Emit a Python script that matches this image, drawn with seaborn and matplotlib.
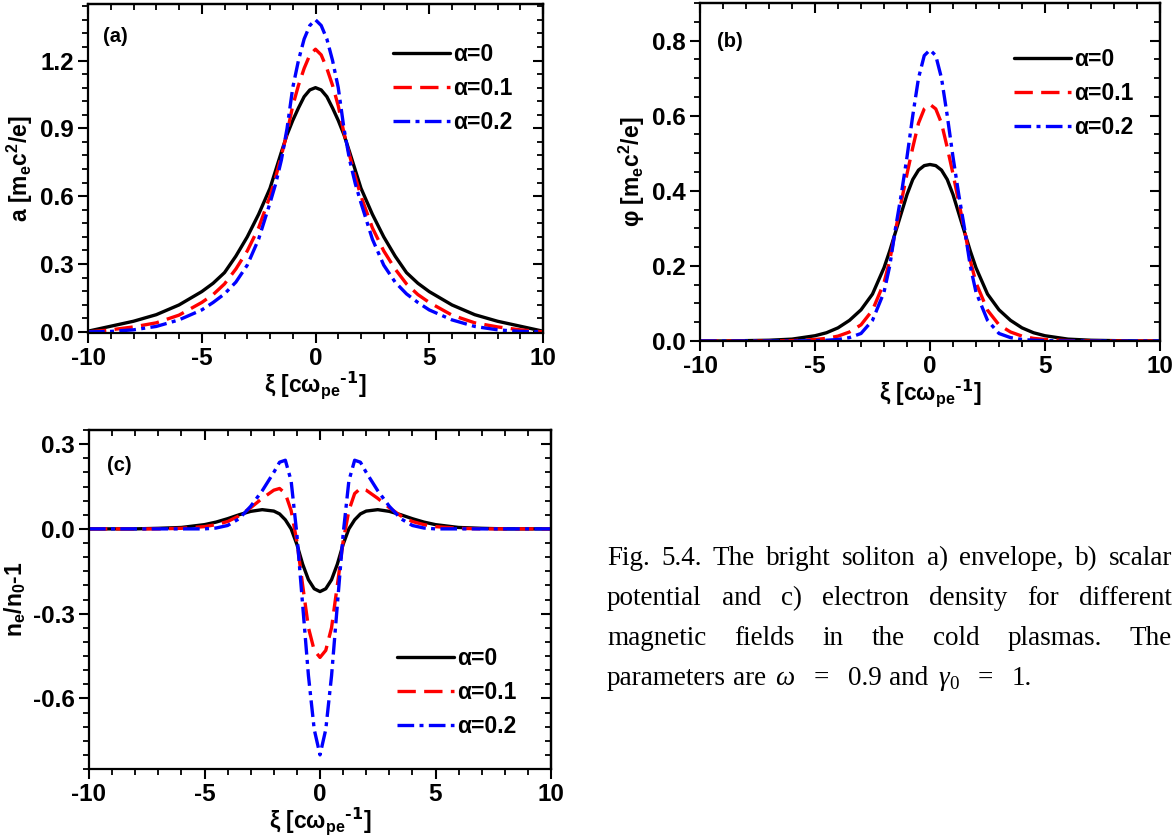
import matplotlib
matplotlib.use("Agg")
import matplotlib.pyplot as plt
from matplotlib.ticker import MultipleLocator, FormatStrFormatter, NullFormatter
import pandas as pd
import seaborn as sns

# ---------------------------------------------------------------- data
xi = [-10, -9, -8, -7, -6, -5, -4.5, -4, -3.5, -3, -2.5, -2, -1.75, -1.5, -1.25,
      -1, -0.75, -0.5, -0.25, 0, 0.25, 0.5, 0.75, 1, 1.25, 1.5, 1.75, 2, 2.5, 3,
      3.5, 4, 4.5, 5, 6, 7, 8, 9, 10]

alpha_labels = ["α=0", "α=0.1", "α=0.2"]

# (a) envelope a [m_e c^2 / e]
a_alpha0 = [0.003, 0.025, 0.047, 0.076, 0.119, 0.178, 0.215, 0.262, 0.335, 0.42,
            0.52, 0.635, 0.715, 0.795, 0.872, 0.935, 0.99, 1.04, 1.07, 1.08,
            1.07, 1.04, 0.99, 0.935, 0.872, 0.795, 0.715, 0.635, 0.52, 0.42,
            0.335, 0.262, 0.215, 0.178, 0.119, 0.076, 0.047, 0.025, 0.003]
a_alpha1 = [0.0, 0.009, 0.022, 0.04, 0.074, 0.13, 0.165, 0.212, 0.278, 0.358,
            0.46, 0.6, 0.685, 0.78, 0.88, 1.0, 1.09, 1.165, 1.225, 1.25,
            1.225, 1.165, 1.09, 1.0, 0.88, 0.78, 0.685, 0.6, 0.46, 0.358,
            0.278, 0.212, 0.165, 0.13, 0.074, 0.04, 0.022, 0.009, 0.0]
a_alpha2 = [0.0, 0.002, 0.009, 0.024, 0.053, 0.097, 0.13, 0.168, 0.22, 0.295,
            0.41, 0.57, 0.655, 0.76, 0.9, 1.08, 1.2, 1.295, 1.355, 1.38,
            1.355, 1.295, 1.2, 1.08, 0.9, 0.76, 0.655, 0.57, 0.41, 0.295,
            0.22, 0.168, 0.13, 0.097, 0.053, 0.024, 0.009, 0.002, 0.0]

# (b) scalar potential phi [m_e c^2 / e]
b_alpha0 = [0, 0, 0.001, 0.002, 0.005, 0.014, 0.022, 0.035, 0.055, 0.083,
            0.125, 0.195, 0.24, 0.29, 0.34, 0.39, 0.43, 0.455, 0.467, 0.47,
            0.467, 0.455, 0.43, 0.39, 0.34, 0.29, 0.24, 0.195, 0.125, 0.083,
            0.055, 0.035, 0.022, 0.014, 0.005, 0.002, 0.001, 0, 0]
b_alpha1 = [0, 0, 0, 0, 0.001, 0.004, 0.007, 0.013, 0.024, 0.043,
            0.082, 0.155, 0.215, 0.295, 0.37, 0.445, 0.515, 0.58, 0.618, 0.63,
            0.618, 0.58, 0.515, 0.445, 0.37, 0.295, 0.215, 0.155, 0.082, 0.043,
            0.024, 0.013, 0.007, 0.004, 0.001, 0, 0, 0, 0]
b_alpha2 = [0, 0, 0, 0, 0, 0.001, 0.002, 0.004, 0.009, 0.02,
            0.055, 0.13, 0.2, 0.3, 0.39, 0.49, 0.6, 0.7, 0.76, 0.775,
            0.76, 0.7, 0.6, 0.49, 0.39, 0.3, 0.2, 0.13, 0.055, 0.02,
            0.009, 0.004, 0.002, 0.001, 0, 0, 0, 0, 0]

# (c) electron density n_e/n_0 - 1
c_alpha0 = [0, 0, 0, 0.002, 0.005, 0.015, 0.024, 0.036, 0.05, 0.062,
            0.068, 0.063, 0.053, 0.032, 0.0, -0.055, -0.125, -0.18, -0.212, -0.222,
            -0.212, -0.18, -0.125, -0.055, 0.0, 0.032, 0.053, 0.063, 0.068, 0.062,
            0.05, 0.036, 0.024, 0.015, 0.005, 0.002, 0, 0, 0]
c_alpha1 = [0, 0, 0, 0, 0.002, 0.008, 0.015, 0.026, 0.046, 0.075,
            0.108, 0.137, 0.143, 0.125, 0.065, -0.045, -0.2, -0.35, -0.43, -0.455,
            -0.43, -0.35, -0.2, -0.045, 0.065, 0.125, 0.143, 0.137, 0.108, 0.075,
            0.046, 0.026, 0.015, 0.008, 0.002, 0, 0, 0, 0]
c_alpha2 = [0, 0, 0, 0, 0, 0, 0.003, 0.012, 0.036, 0.08,
            0.135, 0.2, 0.236, 0.243, 0.17, -0.02, -0.27, -0.52, -0.71, -0.8,
            -0.71, -0.52, -0.27, -0.02, 0.17, 0.243, 0.236, 0.2, 0.135, 0.08,
            0.036, 0.012, 0.003, 0, 0, 0, 0, 0, 0]

caption_lines = [
    "Fig. 5.4. The bright soliton a) envelope, b) scalar",
    "potential and c) electron density for different",
    "magnetic fields in the cold plasmas. The",
]


def long_frame(series):
    parts = []
    for label, values in zip(alpha_labels, series):
        parts.append(pd.DataFrame({"xi": xi, "val": values, "alpha": label}))
    return pd.concat(parts, ignore_index=True)


# ---------------------------------------------------------------- style
sns.set_theme(style="ticks")
plt.rcParams.update({
    "font.family": ["Liberation Sans", "DejaVu Sans"],
    "font.weight": "bold",
    "axes.labelweight": "bold",
    "mathtext.default": "regular",
    "axes.unicode_minus": False,
    "axes.linewidth": 1.6,
    "axes.edgecolor": "black",
    "xtick.color": "black",
    "ytick.color": "black",
    "axes.labelcolor": "black",
    "text.color": "black",
})

W, H = 1175, 836
fig = plt.figure(figsize=(W / 100, H / 100), dpi=100)
fig.patch.set_facecolor("white")

palette = dict(zip(alpha_labels, ["black", "#ff0000", "#0000ff"]))
dashes = dict(zip(alpha_labels, ["", (5.5, 2.5), (5.0, 1.6, 1.2, 1.6)]))

TICK_FS = 17.5
LABEL_FS = 16.5
LEG_FS = 16.5
TAG_FS = 14.5


def px_axes(left, top, right, bottom):
    return fig.add_axes([left / W, 1 - bottom / H, (right - left) / W, (bottom - top) / H])


def style_ticks(ax, ymaj, ymin, yfmt):
    ax.set_xlim(-10, 10)
    ax.xaxis.set_major_locator(MultipleLocator(5))
    ax.xaxis.set_minor_locator(MultipleLocator(1))
    ax.yaxis.set_major_locator(MultipleLocator(ymaj))
    ax.yaxis.set_minor_locator(MultipleLocator(ymin))
    ax.yaxis.set_major_formatter(FormatStrFormatter(yfmt))
    ax.tick_params(which="major", direction="out", length=7, width=1.5,
                   labelsize=TICK_FS, pad=3)
    ax.tick_params(which="minor", direction="out", length=4, width=1.3)
    for sp in ax.spines.values():
        sp.set_visible(True)
        sp.set_linewidth(1.6)
    # mirrored inward ticks on top and right
    sx = ax.secondary_xaxis("top")
    sx.xaxis.set_major_locator(MultipleLocator(5))
    sx.xaxis.set_minor_locator(MultipleLocator(1))
    sx.xaxis.set_major_formatter(NullFormatter())
    sx.tick_params(which="major", direction="in", length=7, width=1.5)
    sx.tick_params(which="minor", direction="in", length=4, width=1.3)
    sx.spines["top"].set_linewidth(1.6)
    sy = ax.secondary_yaxis("right")
    sy.yaxis.set_major_locator(MultipleLocator(ymaj))
    sy.yaxis.set_minor_locator(MultipleLocator(ymin))
    sy.yaxis.set_major_formatter(NullFormatter())
    sy.tick_params(which="major", direction="in", length=7, width=1.5)
    sy.tick_params(which="minor", direction="in", length=4, width=1.3)
    sy.spines["right"].set_linewidth(1.6)


def panel(ax, series, ylim, ymaj, ymin, ylabel, tag, tag_xy, leg_xy):
    df = long_frame(series)
    sns.lineplot(data=df, x="xi", y="val", hue="alpha", style="alpha",
                 hue_order=alpha_labels, style_order=alpha_labels,
                 palette=palette, dashes=dashes, linewidth=2.4,
                 errorbar=None, ax=ax)
    ax.set_ylim(*ylim)
    style_ticks(ax, ymaj, ymin, "%.1f")
    ax.set_xlabel(r"ξ [cω$_{pe}$$^{\text{-1}}$]", fontsize=LABEL_FS, labelpad=0)
    ax.set_ylabel(ylabel, fontsize=LABEL_FS, labelpad=4)
    ax.text(tag_xy[0], tag_xy[1], tag, transform=ax.transAxes,
            fontsize=TAG_FS, fontweight="bold", ha="left", va="center")
    handles, labels = ax.get_legend_handles_labels()
    ax.legend(handles, labels, loc="upper left", bbox_to_anchor=leg_xy,
              frameon=False, fontsize=LEG_FS, handlelength=2.5,
              handletextpad=0.13, labelspacing=0.48,
              borderpad=0, borderaxespad=0)


ax_a = px_axes(88, 4, 543, 333)
panel(ax_a, [a_alpha0, a_alpha1, a_alpha2], (-0.005, 1.45), 0.3, 0.06,
      r"a [m$_e$c$^2$/e]", "(a)", (0.033, 0.9), (0.67, 0.88))

ax_b = px_axes(700, 3, 1160, 341)
panel(ax_b, [b_alpha0, b_alpha1, b_alpha2], (0, 0.9), 0.2, 0.05,
      r"φ [m$_e$c$^2$/e]", "(b)", (0.038, 0.885), (0.683, 0.868))

ax_c = px_axes(89, 430, 551, 769)
panel(ax_c, [c_alpha0, c_alpha1, c_alpha2], (-0.85, 0.35), 0.3, 0.05,
      r"n$_e$/n$_0$-1", "(c)", (0.04, 0.894), (0.667, 0.36))

# ---------------------------------------------------------------- caption
renderer = fig.canvas.get_renderer()
CAP_FS = 19.5
cap_kw = dict(fontfamily="Liberation Serif", fontweight="normal", fontsize=CAP_FS)


def text_width(s, **kw):
    t = fig.text(0, 0, s, **kw)
    w = t.get_window_extent(renderer).width
    t.remove()
    return w


x_left, x_right = 607, 1172
baselines = [565, 605, 645, 685]

for line, base in zip(caption_lines, baselines):
    words = line.split(" ")
    widths = [text_width(w, **cap_kw) for w in words]
    gap = (x_right - x_left - sum(widths)) / (len(words) - 1)
    x = x_left
    for w, wd in zip(words, widths):
        fig.text(x / W, 1 - base / H, w, ha="left", va="baseline", **cap_kw)
        x += wd + gap

space = text_width("a a", **cap_kw) - text_width("aa", **cap_kw)
ital = dict(cap_kw, fontstyle="italic")
sub_kw = dict(cap_kw, fontsize=CAP_FS * 0.7)
runs = [
    ("parameters", cap_kw, 0, space), ("are", cap_kw, 0, space * 1.4),
    ("ω", ital, 0, space * 2.8), ("=", cap_kw, 0, space * 2.8),
    ("0.9", cap_kw, 0, space * 1.2), ("and", cap_kw, 0, space * 1.4),
    ("γ", ital, 0, 0), ("0", sub_kw, 4, space * 2.8),
    ("=", cap_kw, 0, space * 2.8), ("1.", cap_kw, 0, 0),
]
x = x_left
for s, kw, dy, after in runs:
    fig.text(x / W, 1 - (baselines[3] + dy) / H, s, ha="left", va="baseline", **kw)
    x += text_width(s, **kw) + after

fig.savefig("out.png", dpi=100, facecolor="white")
